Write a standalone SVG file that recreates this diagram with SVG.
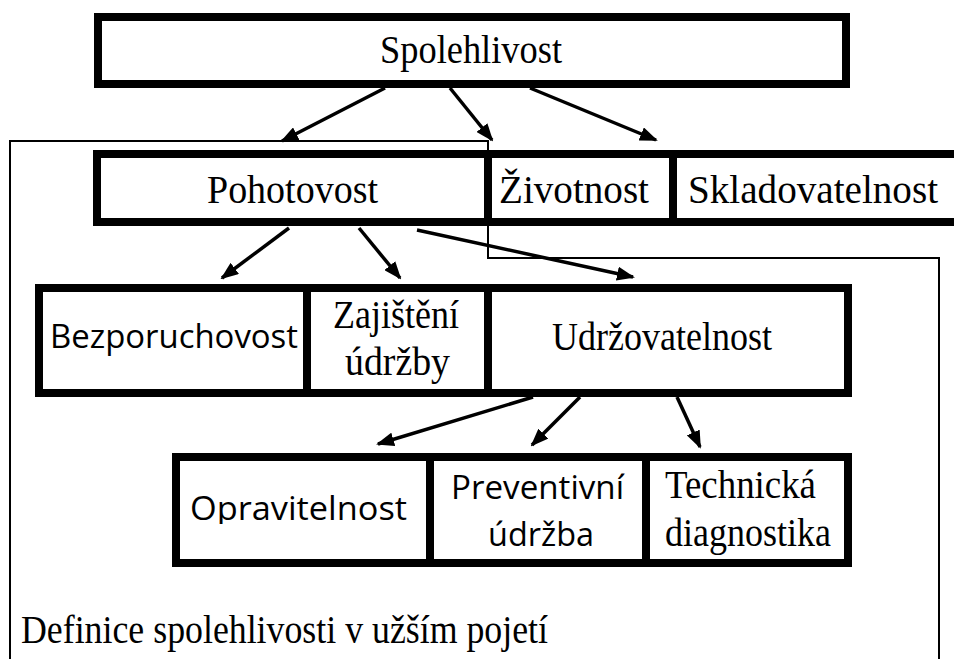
<svg xmlns="http://www.w3.org/2000/svg" width="954" height="659" viewBox="0 0 954 659">
<style>
.box{fill:none;stroke:#000;stroke-width:8}
.ser{font-family:"Liberation Serif","Times New Roman",serif;font-size:39px;fill:#000}
.sans{font-family:"Open Sans","Liberation Sans",Arial,sans-serif;font-size:32px;fill:#000}
.arr{stroke:#000;stroke-width:3.5;fill:none;marker-end:url(#ah)}
.frame{fill:none;stroke:#000;stroke-width:2}
</style>
<defs>
<marker id="ah" markerUnits="userSpaceOnUse" markerWidth="18" markerHeight="14" refX="16" refY="7" orient="auto">
<path d="M0,0 L18,7 L0,14 z" fill="#000"/>
</marker>
<clipPath id="clipOp"><rect x="176" y="457" width="254" height="67"/></clipPath>
</defs>
<rect x="0" y="0" width="954" height="659" fill="#fff"/>
<g id="frame">
<polyline class="frame" points="10,659 10,141 488,141 488,258 939,258 939,659"/>
</g>
<g id="spolehlivost">
<rect class="box" x="98" y="17" width="748" height="67"/>
<text class="ser" x="380" y="63" textLength="182" lengthAdjust="spacingAndGlyphs">Spolehlivost</text>
</g>
<g id="pohotovost">
<rect class="box" x="97" y="154" width="391" height="68"/>
<text class="ser" x="207" y="203" textLength="171" lengthAdjust="spacingAndGlyphs">Pohotovost</text>
</g>
<g id="zivotnost">
<rect class="box" x="488" y="154" width="185" height="68"/>
<text class="ser" x="499" y="203" textLength="150" lengthAdjust="spacingAndGlyphs">Životnost</text>
</g>
<g id="skladovatelnost">
<rect class="box" x="673" y="154" width="300" height="68"/>
<text class="ser" x="688" y="203" textLength="250" lengthAdjust="spacingAndGlyphs">Skladovatelnost</text>
</g>
<g id="bezporuchovost">
<rect class="box" x="39" y="288" width="268" height="105"/>
<text class="sans" x="50" y="348" textLength="248" lengthAdjust="spacingAndGlyphs">Bezporuchovost</text>
</g>
<g id="zajisteni">
<rect class="box" x="307" y="288" width="181" height="105"/>
<text class="ser" x="333" y="328" textLength="126" lengthAdjust="spacingAndGlyphs">Zajištění</text>
<text class="ser" x="345" y="375" textLength="105" lengthAdjust="spacingAndGlyphs">údržby</text>
</g>
<g id="udrzovatelnost">
<rect class="box" x="488" y="288" width="360" height="105"/>
<text class="ser" x="552" y="350" textLength="220" lengthAdjust="spacingAndGlyphs">Udržovatelnost</text>
</g>
<g id="opravitelnost">
<rect class="box" x="176" y="457" width="254" height="106"/>
<text class="sans" x="190" y="520" textLength="217" lengthAdjust="spacingAndGlyphs" clip-path="url(#clipOp)">Opravitelnost</text>
</g>
<g id="preventivni">
<rect class="box" x="430" y="457" width="216" height="106"/>
<text class="sans" x="451" y="499" textLength="173" lengthAdjust="spacingAndGlyphs">Preventivní</text>
<text class="sans" x="488" y="546" textLength="106" lengthAdjust="spacingAndGlyphs">údržba</text>
</g>
<g id="technicka">
<rect class="box" x="646" y="457" width="202" height="106"/>
<text class="ser" x="665" y="498" textLength="151" lengthAdjust="spacingAndGlyphs">Technická</text>
<text class="ser" x="665" y="546" textLength="166" lengthAdjust="spacingAndGlyphs">diagnostika</text>
</g>
<g id="connectors">
<line class="arr" x1="385" y1="88" x2="282" y2="141"/>
<line class="arr" x1="450" y1="88" x2="492" y2="140"/>
<line class="arr" x1="530" y1="88" x2="656" y2="140"/>
<line class="arr" x1="289" y1="228" x2="222" y2="278"/>
<line class="arr" x1="359" y1="228" x2="400" y2="278"/>
<line class="arr" x1="417" y1="230" x2="633" y2="277"/>
<line class="arr" x1="533" y1="397" x2="378" y2="444"/>
<line class="arr" x1="580" y1="397" x2="532" y2="445"/>
<line class="arr" x1="677" y1="397" x2="700" y2="447"/>
</g>
<g id="caption">
<text class="ser" x="21" y="643" textLength="527" lengthAdjust="spacingAndGlyphs">Definice spolehlivosti v užším pojetí</text>
</g>
</svg>
